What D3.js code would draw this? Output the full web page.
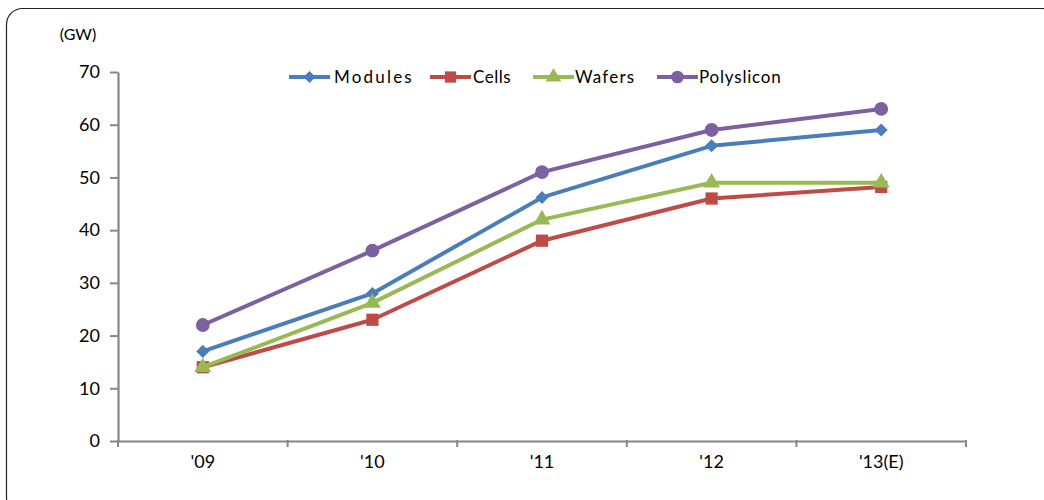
<!DOCTYPE html>
<html>
<head>
<meta charset="utf-8">
<script src="https://cdn.jsdelivr.net/npm/d3@7"></script>
<style>
  html, body { margin: 0; padding: 0; background: #fff; }
  svg { display: block; }
  svg text { font-family: Lato, "Open Sans", sans-serif; }
</style>
</head>
<body>
<svg id="chart" width="1044" height="500"></svg>
<script>
// Capacity by year, GW
const years = ["'09", "'10", "'11", "'12", "'13(E)"];
const modules = [17, 28, 46.2, 56, 59];
const cells = [14, 23, 38, 46, 48.2];
const wafers = [14, 26.2, 42, 49, 49];
const polysilicon = [22, 36.1, 51, 59, 63];
const yTicks = [0, 10, 20, 30, 40, 50, 60, 70];

const series = [
  { name: "Modules", values: modules, color: "#4a7ebb", symbol: d3.symbolSquare, size: 85, rotate: 45 },
  { name: "Cells", values: cells, color: "#be4b48", symbol: d3.symbolSquare, size: 150, rotate: 0 },
  { name: "Wafers", values: wafers, color: "#98b954", symbol: d3.symbolTriangle, size: 125, rotate: 0 },
  { name: "Polyslicon", values: polysilicon, color: "#7d60a0", symbol: d3.symbolCircle, size: 150, rotate: 0 }
];

const svg = d3.select("#chart");
const plot = { left: 118, right: 966, top: 72, bottom: 441 };

// Outer frame
svg.append("rect")
  .attr("x", 6.5).attr("y", 8.5)
  .attr("width", 1052).attr("height", 505)
  .attr("rx", 16)
  .attr("fill", "none").attr("stroke", "#222").attr("stroke-width", 1.2);

const x = d3.scaleBand().domain(years).range([plot.left, plot.right]);
const y = d3.scaleLinear().domain([0, 70]).range([plot.bottom, plot.top]);

// Y axis
const yAxis = svg.append("g")
  .attr("transform", `translate(${plot.left},0)`)
  .call(d3.axisLeft(y).tickValues(yTicks).tickSize(8).tickPadding(10).tickSizeOuter(0));
yAxis.attr("font-family", null).attr("font-size", null);
yAxis.select(".domain").attr("stroke", "#868686").attr("stroke-width", 2.2);
yAxis.selectAll(".tick line").attr("stroke", "#868686").attr("stroke-width", 2);
yAxis.selectAll(".tick text").attr("fill", "#000").style("font-size", "18px");

// X axis, ticks on category boundaries
const xAxis = svg.append("g")
  .attr("transform", `translate(0,${plot.bottom})`)
  .call(d3.axisBottom(x).tickSize(0).tickPadding(14).tickSizeOuter(0));
xAxis.attr("font-family", null).attr("font-size", null);
xAxis.select(".domain").attr("stroke", "#868686").attr("stroke-width", 2.2);
xAxis.selectAll(".tick text").attr("fill", "#000").style("font-size", "18px");
const bounds = years.map(d => x(d)).concat([x(years[years.length - 1]) + x.bandwidth()]);
xAxis.selectAll(".bound")
  .data(bounds)
  .enter().append("line")
  .attr("class", "bound")
  .attr("x1", d => d).attr("x2", d => d)
  .attr("y1", -1).attr("y2", 6)
  .attr("stroke", "#868686").attr("stroke-width", 2);

// Unit label
svg.append("text")
  .attr("x", 78).attr("y", 40)
  .attr("text-anchor", "middle")
  .style("font-size", "16px")
  .text("(GW)");

const cx = d => x(d) + x.bandwidth() / 2;
const line = d3.line().x((v, i) => cx(years[i])).y(v => y(v));

// Lines and markers
series.forEach(s => {
  svg.append("path")
    .datum(s.values)
    .attr("d", line)
    .attr("fill", "none")
    .attr("stroke", s.color)
    .attr("stroke-width", 4)
    .attr("stroke-linejoin", "round");
  svg.append("g").selectAll("path")
    .data(s.values)
    .enter().append("path")
    .attr("transform", (v, i) => `translate(${cx(years[i])},${y(v)}) rotate(${s.rotate})`)
    .attr("d", d3.symbol().type(s.symbol).size(s.size))
    .attr("fill", s.color);
});

// Legend
const legendItems = [
  { x0: 289, tx: 334, spacing: 2.2 },
  { x0: 430, tx: 473, spacing: 0.5 },
  { x0: 533, tx: 575, spacing: 1.2 },
  { x0: 657, tx: 699, spacing: 0.8 }
];
const ly = 77;
series.forEach((s, i) => {
  const li = legendItems[i];
  const g = svg.append("g");
  g.append("line")
    .attr("x1", li.x0).attr("x2", li.x0 + 41)
    .attr("y1", ly).attr("y2", ly)
    .attr("stroke", s.color).attr("stroke-width", 4);
  g.append("path")
    .attr("transform", `translate(${li.x0 + 20.5},${ly}) rotate(${s.rotate})`)
    .attr("d", d3.symbol().type(s.symbol).size(s.size * 0.85))
    .attr("fill", s.color);
  g.append("text")
    .attr("x", li.tx).attr("y", ly + 6)
    .style("font-size", "17px")
    .style("letter-spacing", li.spacing + "px")
    .text(s.name);
});
</script>
</body>
</html>
